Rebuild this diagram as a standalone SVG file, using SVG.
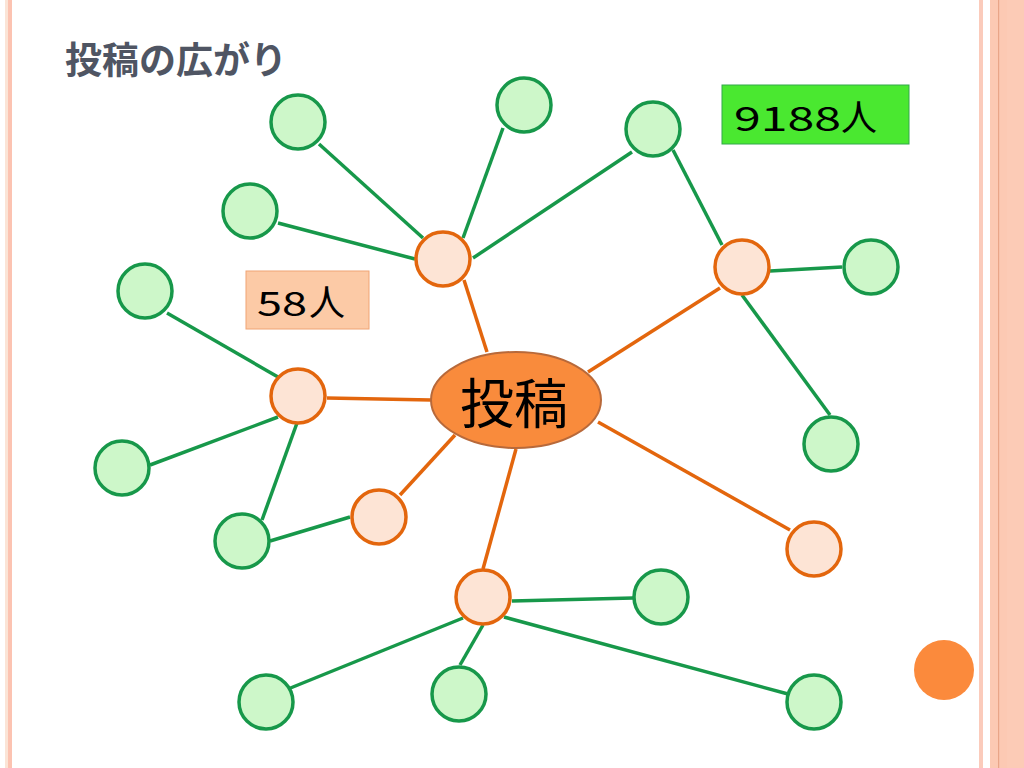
<svg xmlns="http://www.w3.org/2000/svg" width="1024" height="768" viewBox="0 0 1024 768">
<style>
.g{fill:#cdf7c9;stroke:#17984a;stroke-width:3.5}
.o{fill:#fde4d5;stroke:#e3660d;stroke-width:3.5}
.eg{stroke:#17984a;stroke-width:3.5;fill:none;stroke-linecap:butt}
.eo{stroke:#e3660d;stroke-width:3.5;fill:none}
.dig{font-family:"Noto Sans CJK JP","Liberation Sans",sans-serif;font-size:33.5px;fill:#000}
.jin{font-family:"Noto Sans CJK JP",sans-serif;font-size:36px;fill:#000}
</style>
<rect width="1024" height="768" fill="#fff"/>
<g id="border">
<rect x="5" y="0" width="3" height="768" fill="#fbe4d6"/>
<rect x="8" y="0" width="4" height="768" fill="#fcc3b1"/>
<rect x="979" y="0" width="4" height="768" fill="#fbcbbb"/>
<rect x="990" y="0" width="34" height="768" fill="#fcc9b3"/>
<rect x="998" y="0" width="1.2" height="768" fill="#e9a588"/>
<rect x="1007" y="0" width="17" height="768" fill="#fccbb6"/>
</g>
<text id="title" x="65" y="74" font-family="'Noto Sans CJK JP',sans-serif" font-weight="bold" font-size="37" fill="#4f5563">投稿の広がり</text>
<g id="connectors">
<line class="eo" x1="487" y1="352" x2="464" y2="280"/>
<line class="eo" x1="588" y1="372" x2="720" y2="288"/>
<line class="eo" x1="431" y1="400" x2="327" y2="398"/>
<line class="eo" x1="455" y1="435" x2="400" y2="495"/>
<line class="eo" x1="598" y1="422" x2="790" y2="530"/>
<line class="eo" x1="516" y1="449" x2="483" y2="569"/>
<line class="eg" x1="423" y1="238" x2="319" y2="144"/>
<line class="eg" x1="463" y1="238" x2="503" y2="128"/>
<line class="eg" x1="473" y1="258" x2="632" y2="152"/>
<line class="eg" x1="415" y1="259" x2="278" y2="223"/>
<line class="eg" x1="722" y1="245" x2="673" y2="150"/>
<line class="eg" x1="770" y1="271" x2="842" y2="267"/>
<line class="eg" x1="742" y1="295" x2="830" y2="415"/>
<line class="eg" x1="278" y1="377" x2="167" y2="313"/>
<line class="eg" x1="278" y1="417" x2="150" y2="465"/>
<line class="eg" x1="297" y1="423" x2="262" y2="520"/>
<line class="eg" x1="350" y1="517" x2="270" y2="541"/>
<line class="eg" x1="512" y1="601" x2="633" y2="598"/>
<line class="eg" x1="463" y1="618" x2="288" y2="689"/>
<line class="eg" x1="483" y1="625" x2="460" y2="665"/>
<line class="eg" x1="504" y1="617" x2="788" y2="694"/>
</g>
<g id="center"><ellipse cx="516" cy="400" rx="85" ry="48" fill="#f98b3c" stroke="#b8693a" stroke-width="2"/><text x="514" y="424" text-anchor="middle" font-family="'Noto Sans CJK JP',sans-serif" font-size="54" fill="#000">投稿</text></g>
<g id="nA"><circle class="o" cx="443" cy="259" r="27"/></g>
<g id="nB"><circle class="o" cx="742" cy="267" r="27"/></g>
<g id="nC"><circle class="o" cx="298" cy="396" r="27"/></g>
<g id="nD"><circle class="o" cx="379" cy="517" r="27"/></g>
<g id="nE"><circle class="o" cx="814" cy="549" r="27"/></g>
<g id="nF"><circle class="o" cx="483" cy="597" r="27"/></g>
<g id="g1"><circle class="g" cx="298" cy="122" r="27"/></g>
<g id="g2"><circle class="g" cx="524" cy="105" r="27"/></g>
<g id="g3"><circle class="g" cx="653" cy="129" r="27"/></g>
<g id="g4"><circle class="g" cx="250" cy="211" r="27"/></g>
<g id="g5"><circle class="g" cx="145" cy="291" r="27"/></g>
<g id="g6"><circle class="g" cx="871" cy="267" r="27"/></g>
<g id="g7"><circle class="g" cx="831" cy="444" r="27"/></g>
<g id="g8"><circle class="g" cx="122" cy="468" r="27"/></g>
<g id="g9"><circle class="g" cx="242" cy="541" r="27"/></g>
<g id="g10"><circle class="g" cx="661" cy="597" r="27"/></g>
<g id="g11"><circle class="g" cx="266" cy="702" r="27"/></g>
<g id="g12"><circle class="g" cx="459" cy="694" r="27"/></g>
<g id="g13"><circle class="g" cx="814" cy="702" r="27"/></g>
<g id="label58"><rect x="246" y="271" width="123" height="58" fill="#fccaa6" stroke="#f0a474" stroke-width="1"/><text class="dig" x="257" y="315.5" textLength="50" lengthAdjust="spacingAndGlyphs">58</text><text class="jin" x="309" y="316">人</text></g>
<g id="label9188"><rect x="722" y="85" width="187" height="59" fill="#4ae830" stroke="#33a84a" stroke-width="1"/><text class="dig" x="734" y="130.5" textLength="107" lengthAdjust="spacingAndGlyphs">9188</text><text class="jin" x="841" y="131">人</text></g>
<circle id="deco" cx="944" cy="670" r="30" fill="#fb8a3c"/>
</svg>
